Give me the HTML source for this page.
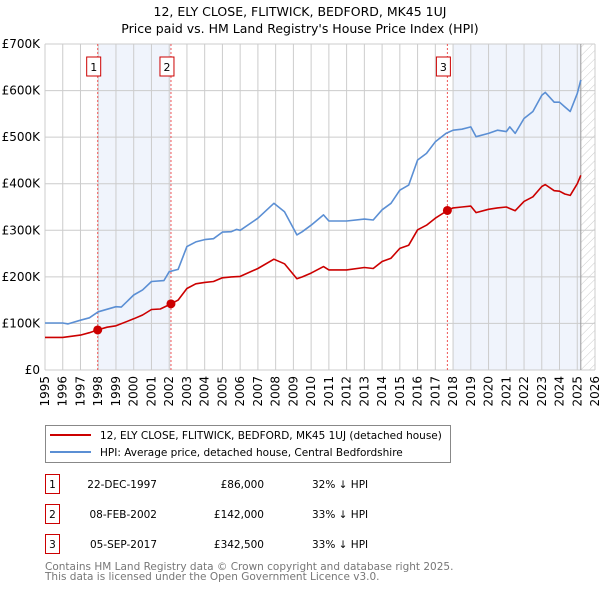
<!DOCTYPE html>
<html><head><meta charset="utf-8"><style>
body{margin:0;background:#fff;font-family:"Liberation Sans","DejaVu Sans",sans-serif;}
#wrap{position:relative;width:600px;height:590px;overflow:hidden}
svg text{font-family:"DejaVu Sans","Liberation Sans",sans-serif;}
</style></head><body>
<div id="wrap">
<svg id="chart" width="600" height="590"></svg>
</div>
<script>
const hpiYears=[1995,1996,1996.3,1997,1997.5,1998,1999,1999.3,2000,2000.5,2001,2001.7,2002,2002.5,2003,2003.5,2004,2004.5,2005,2005.5,2005.8,2006,2007,2007.9,2008.5,2009.2,2009.5,2010,2010.7,2011,2012,2013,2013.5,2014,2014.5,2015,2015.5,2016,2016.5,2017,2017.6,2018,2018.5,2019,2019.3,2020,2020.5,2021,2021.2,2021.5,2022,2022.5,2023,2023.2,2023.7,2024,2024.3,2024.6,2025,2025.2];
const hpiValues=[101,101,99,107,112,125,136,135,161,172,190,192,211,216,265,275,280,282,296,297,302,300,326,358,340,290,297,311,333,320,320,324,322,344,358,386,397,451,465,490,508,515,517,522,501,508,515,512,522,508,540,555,590,596,575,575,565,555,594,623];
const priceYears=[1995,1996,1997,1997.5,1997.97,1998.5,1999,2000,2000.5,2001,2001.5,2002.1,2002.5,2003,2003.5,2004,2004.5,2005,2005.5,2006,2007,2007.9,2008.5,2009.2,2009.5,2010,2010.7,2011,2012,2013,2013.5,2014,2014.5,2015,2015.5,2016,2016.5,2017,2017.68,2018,2018.5,2019,2019.3,2020,2020.5,2021,2021.5,2022,2022.5,2023,2023.2,2023.7,2024,2024.3,2024.6,2025,2025.2];
const priceValues=[70,70,75,80,86,92,95,110,118,130,131,142,150,175,185,188,190,198,200,201,218,238,228,196,200,208,222,215,215,220,218,233,240,261,268,301,311,326,342.5,348,350,352,338,345,348,350,342,362,372,394,398,385,384,378,375,400,418];
const saleYears=[1997.97,2002.1,2017.68];
const saleValues=[86,142,342.5];
const saleLabels=["1","2","3"];
const yTicks=[0,100,200,300,400,500,600,700];
const yTickLabels=["£0","£100K","£200K","£300K","£400K","£500K","£600K","£700K"];
const xTicks=[1995,1996,1997,1998,1999,2000,2001,2002,2003,2004,2005,2006,2007,2008,2009,2010,2011,2012,2013,2014,2015,2016,2017,2018,2019,2020,2021,2022,2023,2024,2025,2026];

const NS="http://www.w3.org/2000/svg";
const svg=document.getElementById('chart');
const L=45,R=595,T=44,B=370,X0=1995,X1=2026,YMAX=700;
function xs(v){return L+(v-X0)/(X1-X0)*(R-L);}
function ys(v){return B-v/YMAX*(B-T);}
function el(tag,attrs,parent){const e=document.createElementNS(NS,tag);for(const k in attrs)e.setAttribute(k,attrs[k]);(parent||svg).appendChild(e);return e;}
function txt(s,attrs){const t=el('text',attrs);t.textContent=s;return t;}

let t=txt("12, ELY CLOSE, FLITWICK, BEDFORD, MK45 1UJ",{x:300,y:16,'text-anchor':'middle','font-size':12.5,fill:'#000'});


t=txt("Price paid vs. HM Land Registry's House Price Index (HPI)",{x:300,y:33,'text-anchor':'middle','font-size':12.5,fill:'#000'});



let s=el('rect',{x:xs(saleYears[0]),y:T,width:xs(saleYears[1])-xs(saleYears[0]),height:B-T,fill:'#f0f4fc'});


s=el('rect',{x:xs(2018),y:T,width:xs(2025.2)-xs(2018),height:B-T,fill:'#f0f4fc'});


const defs=el('defs',{});
const pat=el('pattern',{id:'hatch',width:6,height:6,patternUnits:'userSpaceOnUse',patternTransform:'rotate(45)'},defs);
el('line',{x1:0,y1:0,x2:0,y2:6,stroke:'#ccc','stroke-width':1},pat);
s=el('rect',{x:xs(2025.2),y:T,width:R-xs(2025.2),height:B-T,fill:'url(#hatch)'});



xTicks.forEach(v=>{
  const g=el('line',{x1:xs(v),x2:xs(v),y1:T,y2:B,stroke:'#cccccc','stroke-width':1});
  
  
  const lb=txt(String(v),{transform:`translate(${xs(v)+4},${B+6}) rotate(-90)`,'text-anchor':'end','font-size':12,fill:'#000'});
  
  
});
yTicks.forEach((v,i)=>{
  const g=el('line',{x1:L,x2:R,y1:ys(v),y2:ys(v),stroke:'#cccccc','stroke-width':1});
  
  
  const lb=txt(yTickLabels[i],{x:40,y:ys(v)+4,'text-anchor':'end','font-size':12,fill:'#000'});
  
  
});
let ed=el('line',{x1:xs(2025.2),x2:xs(2025.2),y1:T,y2:B,stroke:'#999','stroke-width':1});



saleYears.forEach((v,i)=>{
  const d=el('line',{x1:xs(v),x2:xs(v),y1:T,y2:B,stroke:'#e55','stroke-width':1,'stroke-dasharray':'2,2'});
  
  
  const b=el('rect',{x:xs(v)-11,y:57,width:14,height:19,fill:'#fff',stroke:'#c00','stroke-width':1});
  
  
  const l=txt(saleLabels[i],{x:xs(v)-4,y:71,'text-anchor':'middle','font-size':11,fill:'#000'});
  
  
});

function path(xa,va,color,name){
  const d=xa.map((x,i)=>(i?'L':'M')+xs(x).toFixed(1)+','+ys(va[i]).toFixed(1)).join(' ');
  const p=el('path',{d:d,fill:'none',stroke:color,'stroke-width':1.6,'stroke-linejoin':'round'});
  
  
}
path(hpiYears,hpiValues,'#5b8fd4','hpi-line');
path(priceYears,priceValues,'#cc0000','price-paid-line');
saleYears.forEach((v,i)=>{
  const c=el('circle',{cx:xs(v),cy:ys(saleValues[i]),r:4.5,fill:'#cc0000'});
  
  
});

const lg=el('rect',{x:45.5,y:425.5,width:405,height:37,fill:'#fff',stroke:'#888','stroke-width':1});


let ll=el('line',{x1:50,x2:91,y1:435,y2:435,stroke:'#cc0000','stroke-width':2});


ll=el('line',{x1:50,x2:91,y1:452,y2:452,stroke:'#5b8fd4','stroke-width':2});


t=txt("12, ELY CLOSE, FLITWICK, BEDFORD, MK45 1UJ (detached house)",{x:100,y:439,'font-size':10.5,fill:'#000'});


t=txt("HPI: Average price, detached house, Central Bedfordshire",{x:100,y:456,'font-size':10.5,fill:'#000'});



const tDates=["22-DEC-1997","08-FEB-2002","05-SEP-2017"];
const tPrices=["£86,000","£142,000","£342,500"];
const tPct=["32% ↓ HPI","33% ↓ HPI","33% ↓ HPI"];
[0,1,2].forEach(i=>{
  const y=483+i*30;
  const b=el('rect',{x:45.5,y:y-8.5,width:14,height:19,fill:'#fff',stroke:'#c00','stroke-width':1});
  
  
  let c=txt(saleLabels[i],{x:52.5,y:y+5,'text-anchor':'middle','font-size':10.5,fill:'#000'});
  
  
  c=txt(tDates[i],{x:157,y:y+5,'text-anchor':'end','font-size':10.5,fill:'#000'});
  
  
  c=txt(tPrices[i],{x:264,y:y+5,'text-anchor':'end','font-size':10.5,fill:'#000'});
  
  
  c=txt(tPct[i],{x:312,y:y+5,'font-size':10.5,fill:'#000'});
  
  
});
t=txt("Contains HM Land Registry data © Crown copyright and database right 2025.",{x:45,y:570,'font-size':10.5,fill:'#777'});


t=txt("This data is licensed under the Open Government Licence v3.0.",{x:45,y:580,'font-size':10.5,fill:'#777'});


</script>
</body></html>
